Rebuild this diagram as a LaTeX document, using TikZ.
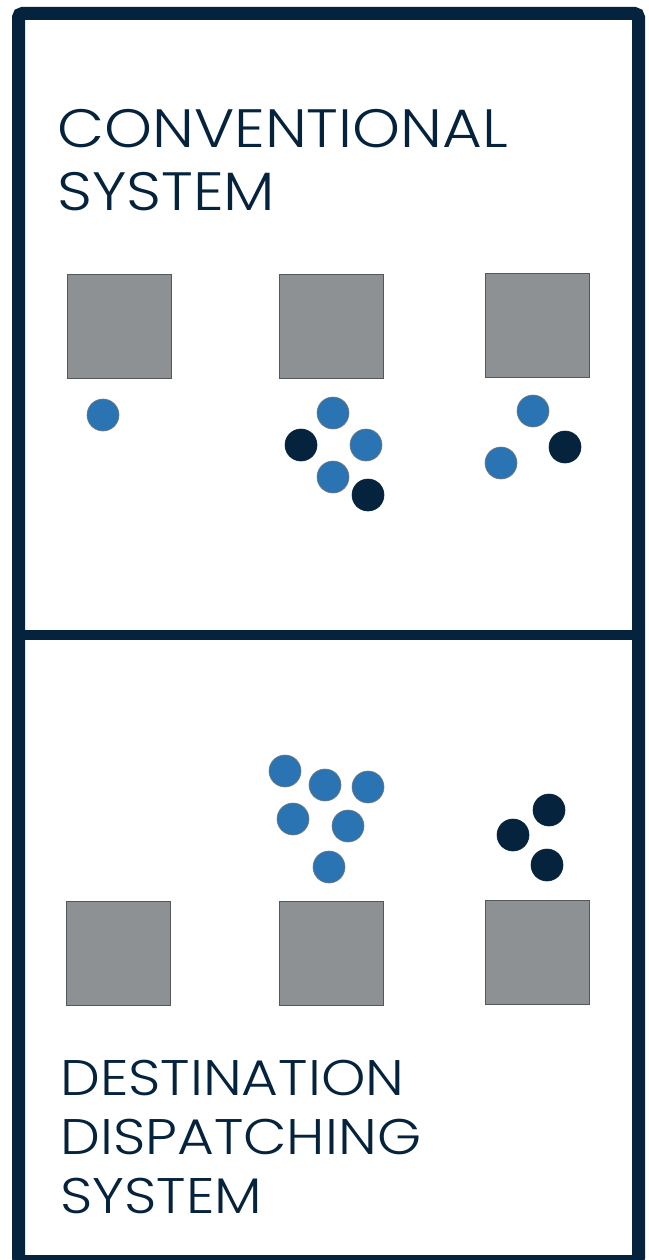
\documentclass[tikz,border=0pt]{standalone}
\usepackage{fontspec}
\setmainfont{Poppins}[UprightFont={* Light}, FakeStretch=1.13]
\usepackage{tikz}
\usetikzlibrary{positioning}

\definecolor{navy}{HTML}{06233D}
\definecolor{paxblue}{HTML}{2A74B4}
\definecolor{cargrey}{HTML}{8E9194}
\definecolor{caredge}{HTML}{55585B}

\begin{document}
\begin{tikzpicture}[x=1pt, y=-1pt,
        car/.style={rectangle, fill=cargrey, draw=caredge, line width=0.8pt, inner sep=0pt, minimum size=104pt},
        pax/.style={circle, fill=paxblue, draw=caredge!80, line width=0.6pt, inner sep=0pt, minimum size=32pt},
        vip/.style={circle, fill=navy, draw=navy, line width=0.6pt, inner sep=0pt, minimum size=32pt},
        heading/.style={anchor=base west, align=left, inner sep=0pt, text=navy}
    ]
        \useasboundingbox (0,0) rectangle (648,1260);
        \fill[white] (0,0) rectangle (648,1260);

        % frame and divider
        \draw[navy, line width=13pt, rounded corners=4pt] (18.5,13.5) rectangle (638.5,1261.5);
        \draw[navy, line width=10pt] (25,635) -- (632,635);

        % conventional system
        \node[heading, font=\fontsize{54}{63}\selectfont] (convtitle) at (57,211) {CONVENTIONAL\\SYSTEM};

        \node[car] (topcar1) at (119,326) {};
        \node[car] (topcar2) at (331.5,326) {};
        \node[car] (topcar3) at (537.5,325) {};

        \node[pax] (tp1) at (103,415) {};
        \node[pax] (tp2) at (333,413) {};
        \node[vip] (tp3) at (301,445) {};
        \node[pax] (tp4) at (366,445) {};
        \node[pax] (tp5) at (333,477) {};
        \node[vip] (tp6) at (368,495) {};
        \node[pax] (tp7) at (533,411) {};
        \node[vip] (tp8) at (565,447) {};
        \node[pax] (tp9) at (501,463) {};

        % destination dispatching system
        \node[car] (botcar1) at (118.5,953) {};
        \node[car] (botcar2) at (331.5,953) {};
        \node[car] (botcar3) at (537.5,952) {};

        \node[pax] (bp1) at (285,771) {};
        \node[pax] (bp2) at (325,785) {};
        \node[pax] (bp3) at (368,787) {};
        \node[pax] (bp4) at (293,819) {};
        \node[pax] (bp5) at (348,826) {};
        \node[pax] (bp6) at (329,867) {};
        \node[vip] (bp7) at (549,810) {};
        \node[vip] (bp8) at (513,835) {};
        \node[vip] (bp9) at (547,865) {};

        \node[heading, font=\fontsize{50}{59}\selectfont] (desttitle) at (60,1213) {DESTINATION\\DISPATCHING\\SYSTEM};
    \end{tikzpicture}
\end{document}
